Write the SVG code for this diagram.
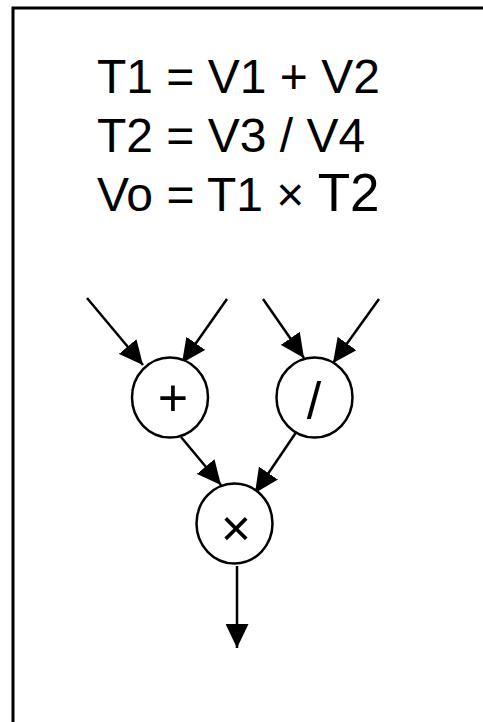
<svg xmlns="http://www.w3.org/2000/svg" width="483" height="722" viewBox="0 0 483 722">
  <style>
    .eq { font-family: "Liberation Sans", Arial, sans-serif; font-size: 48px; fill: #000; }
    .op { font-family: "Liberation Sans", Arial, sans-serif; font-size: 52px; fill: #000; text-anchor: middle; }
    .node { fill: #fff; stroke: #000; stroke-width: 2.5; }
    .edge { fill: none; stroke: #000; stroke-width: 2.5; marker-end: url(#head); }
  </style>
  <defs>
    <marker id="head" markerUnits="userSpaceOnUse" markerWidth="24" markerHeight="23" refX="24" refY="11.5" orient="auto" viewBox="0 0 24 23">
      <path d="M0,0 L24,11.5 L0,23 z" fill="#000"/>
    </marker>
  </defs>

  <rect x="0" y="0" width="483" height="722" fill="#fff"/>
  <!-- frame -->
  <rect x="13" y="8" width="520" height="760" fill="none" stroke="#000" stroke-width="3"/>

  <!-- equations -->
  <g id="equations">
    <text class="eq" x="97" y="93">T1 = V1 + V2</text>
    <text class="eq" x="97" y="152">T2 = V3 / V4</text>
    <text class="eq" x="97" y="211">Vo = T1 × <tspan font-size="53">T2</tspan></text>
  </g>

  <!-- connectors -->
  <g id="connectors">
    <line class="edge" x1="87" y1="298" x2="143" y2="365"/>
    <line class="edge" x1="227" y1="299" x2="182" y2="363"/>
    <line class="edge" x1="263" y1="299" x2="304" y2="358"/>
    <line class="edge" x1="379" y1="299" x2="333" y2="363"/>
    <line class="edge" x1="181" y1="437" x2="221" y2="485"/>
    <line class="edge" x1="297" y1="431" x2="255" y2="493"/>
    <line class="edge" x1="237" y1="566" x2="237" y2="648"/>
  </g>

  <!-- operator nodes -->
  <g id="add">
    <ellipse class="node" cx="170" cy="397.5" rx="38" ry="40"/>
    <text class="op" x="173" y="416">+</text>
  </g>
  <g id="div">
    <ellipse class="node" cx="314.5" cy="397.5" rx="38" ry="40"/>
    <text class="op" x="314" y="419">/</text>
  </g>
  <g id="mul">
    <ellipse class="node" cx="234.5" cy="523.5" rx="38" ry="40"/>
    <text class="op" x="236" y="546">×</text>
  </g>
</svg>
